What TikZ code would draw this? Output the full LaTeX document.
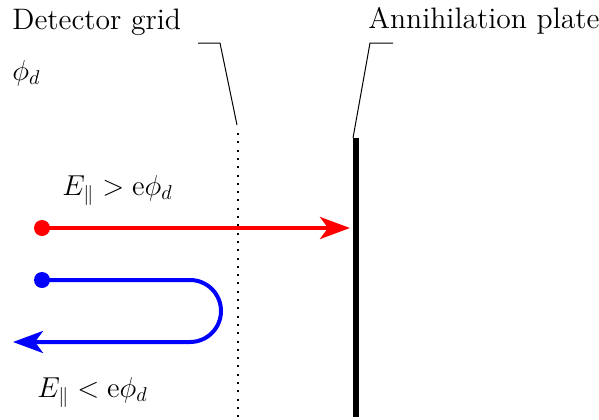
\documentclass[tikz,border=0pt]{standalone}
\usetikzlibrary{arrows.meta}
\begin{document}
\begin{tikzpicture}[x=0.5pt,y=-0.5pt,
  lbl/.style={anchor=base west,inner sep=0pt,font=\fontsize{14.8}{17}\selectfont},
  leader/.style={line width=0.5pt},
  dotnode/.style={circle,inner sep=0pt,minimum size=8pt},
  path/.style={line width=2pt,-{Stealth[length=15pt,width=11pt,inset=4pt]}}]
\useasboundingbox (0,0) rectangle (599,419);
% labels
\node[lbl] (grid) at (12,29) {Detector grid};
\node[lbl] (phi) at (12,80) {$\phi_d$};
\node[lbl] (plate) at (368,28) {Annihilation plate};
\node[lbl] (gt) at (62,195) {$E_\parallel > \mathrm{e}\phi_d$};
\node[lbl] (lt) at (37,397) {$E_\parallel < \mathrm{e}\phi_d$};
% grid and plate
\coordinate (gtop) at (238,133);
\coordinate (gbot) at (238,419);
\draw[line width=1pt,dash pattern=on 1pt off 3.15pt] (gtop) -- (gbot);
\coordinate (ptop) at (356,138);
\coordinate (pbot) at (356,417);
\draw[line width=3pt] (ptop) -- (pbot);
% leaders
\coordinate (g1) at (198,43);
\coordinate (g2) at (220,43);
\coordinate (g3) at (237,125);
\draw[leader] (g1) -- (g2) -- (g3);
\coordinate (p1) at (393,43);
\coordinate (p2) at (370,43);
\coordinate (p3) at (353,138);
\draw[leader] (p1) -- (p2) -- (p3);
% red particle
\node[dotnode,fill=red] (r0) at (42,228) {};
\coordinate (rtip) at (350,228);
\draw[path,red] (r0.center) -- (rtip);
% blue particle
\node[dotnode,fill=blue] (b0) at (42,280) {};
\coordinate (b1) at (190,280);
\coordinate (btip) at (13,342);
\draw[path,blue] (b0.center) -- (b1) arc[start angle=90,end angle=-90,radius=15.5pt] -- (btip);
\end{tikzpicture}
\end{document}
